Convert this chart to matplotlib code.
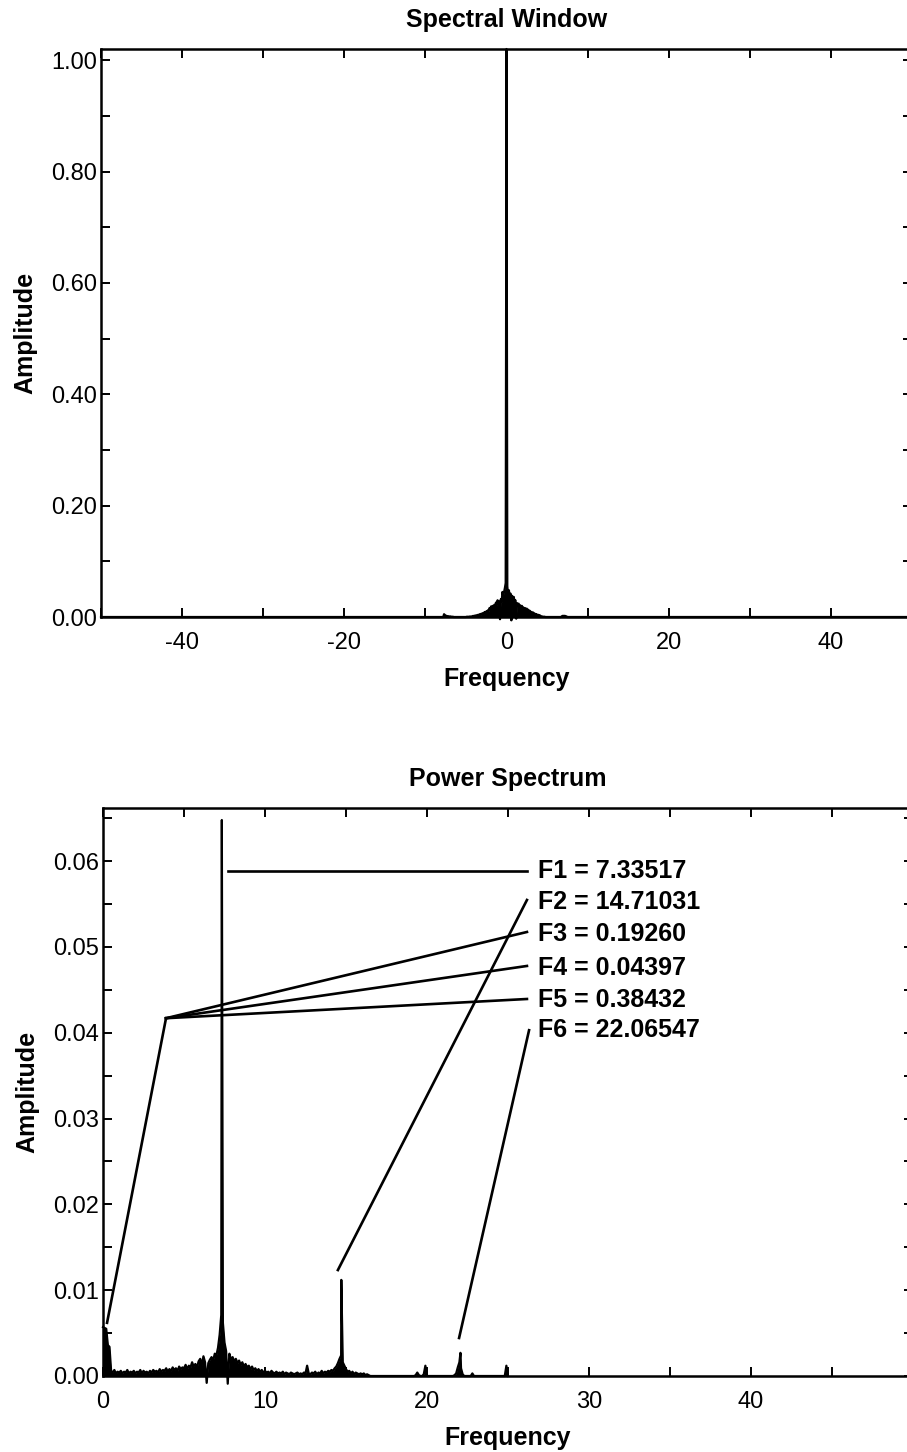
import numpy as np
import matplotlib
matplotlib.use("Agg")
import matplotlib.pyplot as plt
from matplotlib.ticker import MultipleLocator, FixedLocator, FormatStrFormatter

plt.rcParams['font.family'] = ['Liberation Sans', 'DejaVu Sans']
plt.rcParams['axes.unicode_minus'] = False

# ---------------- Spectral window data ----------------
# amplitudes (x 0.001) on a 0.1 grid from -8.0 to 8.0
window_start, window_step = -8.0, 0.1
window_amp_milli = [
    0, 0, 0, 5, 3.5, 2.5, 2, 1.5, 1.5, 1,
    1, 1, 0.5, 0.5, 0.5, 0, 0, 0, 0, 0,
    0, 0, 0, 0, 0, 0, 0, 0, 0, 0,
    0, 0.5, 0.5, 0.5, 0.5, 1, 0.5, 1, 1.5, 2,
    1.5, 2.5, 2, 3, 2.5, 4, 3, 5, 4, 6,
    5, 7, 6, 9, 7, 10, 8, 12, 10, 16,
    14, 19, 15, 20, 18, 22, 17, 26, 21, 30,
    24, 28, -4, 32, 27, 45, 38, 45, 52, 61,
    1020,
    55, 40, 48, 35, 42, -6, 38, 30, 36, 26,
    30, -3, 25, 21, 24, 18, 21, 16, 20, 15,
    17, 13, 16, 12, 15, 11, 13, 9, 11, 8,
    9, 6, 8, 5, 6, 4, 5, 3, 4, 2.5,
    3, 2, 1, 1, 0.5, 0.5, 0.5, 0, 0, 0,
    0, 0, 0, 0, 0, 0, 0, 0, 0, 0,
    0, 0, 0, 0, 0, 0, 0, 1, 2, 2,
    2, 2, 1.5, 1, 0, 0, 0, 0, 0, 0,
]
window_edge_freqs = [-50.0, 50.0]
window_xticks = [-40, -20, 0, 20, 40]

# ---------------- Power spectrum data ----------------
# amplitudes (x 0.001) on a 0.1 grid from 0.0 to 25.0
spec_start, spec_step = 0.0, 0.1
spec_amp_milli = [
    5.7, 5.6, 5.5, 3.6, 3.4, 0.6, 0.4, 0.7, 0.3, 0.5,
    0.4, 0.6, 0.3, 0.5, 0.4, 0.7, 0.3, 0.5, 0.4, 0.6,
    0.3, 0.5, 0.4, 0.7, 0.3, 0.6, 0.4, 0.5, 0.3, 0.6,
    0.4, 0.7, 0.5, 0.6, 0.4, 0.8, 0.5, 0.7, 0.6, 0.9,
    0.5, 0.8, 0.6, 1.0, 0.7, 0.9, 0.6, 1.1, 0.8, 1.0,
    0.9, 1.3, 0.8, 1.2, 1.0, 1.6, 1.1, 1.4, 1.0, 1.7,
    2.0, 1.3, 2.3, 1.6, -0.8, 1.5, 1.9, 2.2, 1.8, 2.6,
    2.4, 3.3, 4.8, 7.1, 6.2, 3.9, 2.9, -0.9, 2.6, 1.9,
    2.2, 1.7, 2.0, 1.5, 1.8, 1.3, 1.6, 1.1, 1.4, 1.0,
    1.2, 0.8, 1.1, 0.7, 0.9, 0.6, 0.8, 0.5, 0.7, 0.4,
    0.6, 0.4, 0.5, 0.3, 0.6, 0.4, 0.3, 0.5, 0.3, 0.4,
    0.3, 0.5, 0.2, 0.4, 0.3, 0.2, 0.4, 0.3, 0.2, 0.3,
    0.4, 0.2, 0.3, 0.2, 0.4, 0.3, 1.2, 0.3, 0.2, 0.4,
    0.3, 0.5, 0.2, 0.4, 0.3, 0.6, 0.3, 0.5, 0.4, 0.6,
    0.5, 0.7, 0.6, 0.9, 1.1, 1.5, 2.0, 2.4, 1.6, 1.2,
    0.8, 0.5, 0.6, 0.3, 0.5, 0.2, 0.4, 0.3, 0.2, 0.3,
    0.2, 0.3, 0.1, 0.2, 0.1, 0.0, 0.0, 0.0, 0.0, 0.0,
    0, 0, 0, 0, 0, 0, 0, 0, 0, 0,
    0, 0, 0, 0, 0, 0, 0, 0, 0, 0,
    0.0, 0.0, 0.0, 0.1, 0.4, 0.1, 0.0, 0.0, 0.2, 1.2,
    0, 0, 0, 0, 0, 0, 0, 0, 0, 0,
    0, 0, 0, 0, 0, 0, 0, 0.1, 0.3, 1.0,
    1.6, 0.9, 0.2, 0.0, 0.0, 0.0, 0.0, 0.0, 0.3, 0.0,
    0, 0, 0, 0, 0, 0, 0, 0, 0, 0,
    0, 0, 0, 0, 0, 0, 0, 0, 0, 1.2,
    0,
]
spec_xticks = [0, 10, 20, 30, 40]
# identified peaks
peak_freqs = [7.33517, 14.71031, 22.06547]
peak_amps = [0.0648, 0.0112, 0.0027]

# annotation labels
freq_labels = ["F1 = 7.33517", "F2 = 14.71031", "F3 = 0.19260",
               "F4 = 0.04397", "F5 = 0.38432", "F6 = 22.06547"]
label_y = [0.05886, 0.05524, 0.05152, 0.04755, 0.04382, 0.04033]

# ---------------- build series ----------------
w_freq = np.round(window_start + window_step * np.arange(len(window_amp_milli)), 3)
w_amp = np.array(window_amp_milli) / 1000.0
w_freq = np.concatenate([[window_edge_freqs[0]], w_freq, [window_edge_freqs[1]]])
w_amp = np.concatenate([[0.0], w_amp, [0.0]])

s_freq = np.round(spec_start + spec_step * np.arange(len(spec_amp_milli)), 3)
s_amp = np.array(spec_amp_milli) / 1000.0
s_freq = np.concatenate([s_freq, peak_freqs])
s_amp = np.concatenate([s_amp, peak_amps])
order = np.argsort(s_freq, kind="stable")
s_freq, s_amp = s_freq[order], s_amp[order]

# ---------------- figure ----------------
W, H = 907, 1452
fig = plt.figure(figsize=(W / 100, H / 100), dpi=100)
ax1 = fig.add_axes([101 / W, 1 - 617 / H, 811 / W, 568 / H])
ax2 = fig.add_axes([103 / W, 1 - 1376 / H, 810 / W, 568 / H])

FS = 18
TICK_FS = 17


def style(ax):
    for sp in ax.spines.values():
        sp.set_linewidth(1.8)
    ax.tick_params(which="both", direction="in", top=True, right=True,
                   length=6.5, width=1.4, labelsize=TICK_FS, pad=3)
    ax.tick_params(axis="x", which="both", pad=11)


# top panel
ax1.fill_between(w_freq, w_amp, 0, color="black", lw=0, clip_on=False)
ax1.plot(w_freq, w_amp, color="black", lw=1.6, clip_on=False)
ax1.set_xlim(-50, 50)
ax1.set_ylim(0, 1.02)
ax1.xaxis.set_major_locator(FixedLocator(window_xticks))
ax1.xaxis.set_minor_locator(MultipleLocator(10))
ax1.yaxis.set_major_locator(MultipleLocator(0.2))
ax1.yaxis.set_minor_locator(MultipleLocator(0.1))
ax1.yaxis.set_major_formatter(FormatStrFormatter("%.2f"))
style(ax1)
ax1.set_title("Spectral Window", fontsize=FS, fontweight="bold", pad=16)
ax1.set_xlabel("Frequency", fontsize=FS, fontweight="bold", labelpad=9)
ax1.set_ylabel("Amplitude", fontsize=FS, fontweight="bold", labelpad=10)

# bottom panel
ax2.fill_between(s_freq, s_amp, 0, color="black", lw=0, clip_on=False)
ax2.plot(s_freq, s_amp, color="black", lw=1.6, clip_on=False)
ax2.set_xlim(0, 50)
ax2.set_ylim(0, 0.0662)
ax2.xaxis.set_major_locator(FixedLocator(spec_xticks))
ax2.xaxis.set_minor_locator(MultipleLocator(5))
ax2.yaxis.set_major_locator(MultipleLocator(0.01))
ax2.yaxis.set_minor_locator(MultipleLocator(0.005))
ax2.yaxis.set_major_formatter(FormatStrFormatter("%.2f"))
style(ax2)
ax2.set_title("Power Spectrum", fontsize=FS, fontweight="bold", pad=16)
ax2.set_xlabel("Frequency", fontsize=FS, fontweight="bold", labelpad=9)
ax2.set_ylabel("Amplitude", fontsize=FS, fontweight="bold", labelpad=10)

# annotations
text_x = 26.85
end_x = 26.17
LW = 1.9
# F1
ax2.plot([7.72, end_x], [label_y[0], label_y[0]], color="black", lw=LW)
# F2
ax2.plot([14.5, end_x], [0.01235, 0.05548], color="black", lw=LW)
# F3-F5 shared leader
hub = (3.89, 0.0417)
ax2.plot([0.25, hub[0]], [0.0062, hub[1]], color="black", lw=LW)
for yy in [0.05175, 0.04779, 0.04394]:
    ax2.plot([hub[0], end_x], [hub[1], yy], color="black", lw=LW)
# F6
ax2.plot([21.98, 26.3], [0.00443, 0.0403], color="black", lw=LW)

for lab, yy in zip(freq_labels, label_y):
    ax2.text(text_x, yy, lab, fontsize=FS, fontweight="bold",
             ha="left", va="center")

fig.savefig("out.png", dpi=100)
